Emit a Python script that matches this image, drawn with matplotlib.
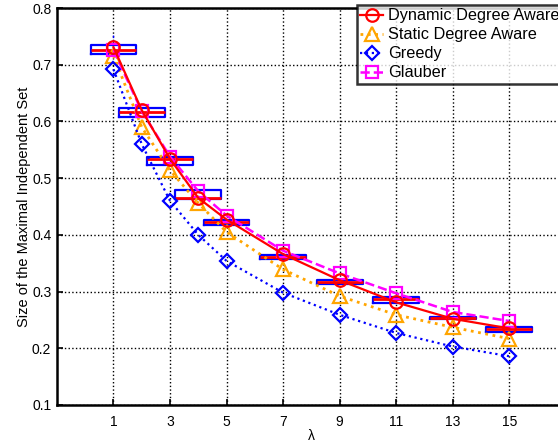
import matplotlib
matplotlib.use('Agg')
import matplotlib.pyplot as plt

plt.rcParams['font.family'] = ['Liberation Sans', 'DejaVu Sans']

# lambda values and mean MIS size per algorithm
lam = [1, 2, 3, 4, 5, 7, 9, 11, 13, 15]
dynamic = [0.731, 0.620, 0.534, 0.465, 0.427, 0.366, 0.320, 0.281, 0.252, 0.235]
static = [0.716, 0.590, 0.514, 0.456, 0.405, 0.339, 0.292, 0.259, 0.237, 0.217]
greedy = [0.692, 0.560, 0.460, 0.400, 0.354, 0.298, 0.259, 0.227, 0.203, 0.186]
glauber = [0.726, 0.618, 0.538, 0.477, 0.434, 0.372, 0.332, 0.297, 0.264, 0.248]

# spread of the dynamic degree aware runs
box_lo = [0.719, 0.608, 0.524, 0.463, 0.417, 0.357, 0.314, 0.279, 0.251, 0.229]
box_q1 = [0.719, 0.608, 0.524, 0.463, 0.417, 0.357, 0.314, 0.279, 0.251, 0.229]
box_med = [0.726, 0.617, 0.533, 0.465, 0.422, 0.361, 0.317, 0.286, 0.254, 0.234]
box_q3 = [0.734, 0.624, 0.537, 0.479, 0.426, 0.365, 0.320, 0.291, 0.256, 0.238]
box_hi = [0.752, 0.624, 0.537, 0.479, 0.426, 0.365, 0.320, 0.291, 0.256, 0.238]

xticks = [1, 3, 5, 7, 9, 11, 13, 15]
yticks = [0.1, 0.2, 0.3, 0.4, 0.5, 0.6, 0.7, 0.8]

fig = plt.figure(figsize=(5.58, 4.46), dpi=100)
ax = fig.add_axes([0.102, 0.092, 0.912, 0.890])

stats = [dict(whislo=lo, q1=a, med=m, q3=b, whishi=hi, fliers=[])
         for lo, a, m, b, hi in zip(box_lo, box_q1, box_med, box_q3, box_hi)]
ax.bxp(stats, positions=lam, widths=1.62, showcaps=False, showfliers=False,
       boxprops=dict(color='#0000ff', linewidth=1.6),
       medianprops=dict(color='#ff0000', linewidth=2.0),
       whiskerprops=dict(color='#0000ff', linewidth=1.0, linestyle='--'),
       manage_ticks=False, zorder=3)

ax.plot(lam, dynamic, '-', color='#ff0000', lw=1.6, marker='o', ms=9,
        mfc='none', mew=1.6, label='Dynamic Degree Aware', zorder=5)
ax.plot(lam, static, ':', color='#ffa500', lw=2.0, marker='^', ms=10,
        mfc='none', mew=1.6, label='Static Degree Aware', zorder=4)
ax.plot(lam, greedy, ':', color='#0000ff', lw=1.6, marker='D', ms=7,
        mfc='none', mew=1.6, label='Greedy', zorder=4)
ax.plot(lam, glauber, '--', color='#ff00ff', lw=1.8, marker='s', ms=9,
        mfc='none', mew=1.6, label='Glauber', zorder=4)

ax.set_xlim(-1, 17)
ax.set_ylim(0.1, 0.8)
ax.set_xticks(xticks)
ax.set_xticklabels([str(t) for t in xticks])
ax.set_yticks(yticks)
ax.set_yticklabels(['%.1f' % t for t in yticks])
ax.tick_params(direction='in', length=4, width=1.2, labelsize=10)
ax.tick_params(axis='x', pad=7)
ax.tick_params(axis='y', pad=4)
ax.grid(True, linestyle=':', color='black', linewidth=1.0)
for s in ax.spines.values():
    s.set_linewidth(1.8)

ax.set_xlabel('λ', fontsize=10, labelpad=0)
ax.set_ylabel('Size of the Maximal Independent Set', fontsize=10.5, labelpad=1)

leg = ax.legend(loc='upper left', bbox_to_anchor=(357 / 558, 1 - 5 / 446),
                bbox_transform=fig.transFigure, fontsize=11.7, frameon=True,
                fancybox=False, borderaxespad=0, handlelength=1.4,
                handletextpad=0.3, labelspacing=0.25, borderpad=0.2)
leg.get_frame().set_edgecolor('black')
leg.get_frame().set_linewidth(1.8)

fig.savefig('out.png', dpi=100)
